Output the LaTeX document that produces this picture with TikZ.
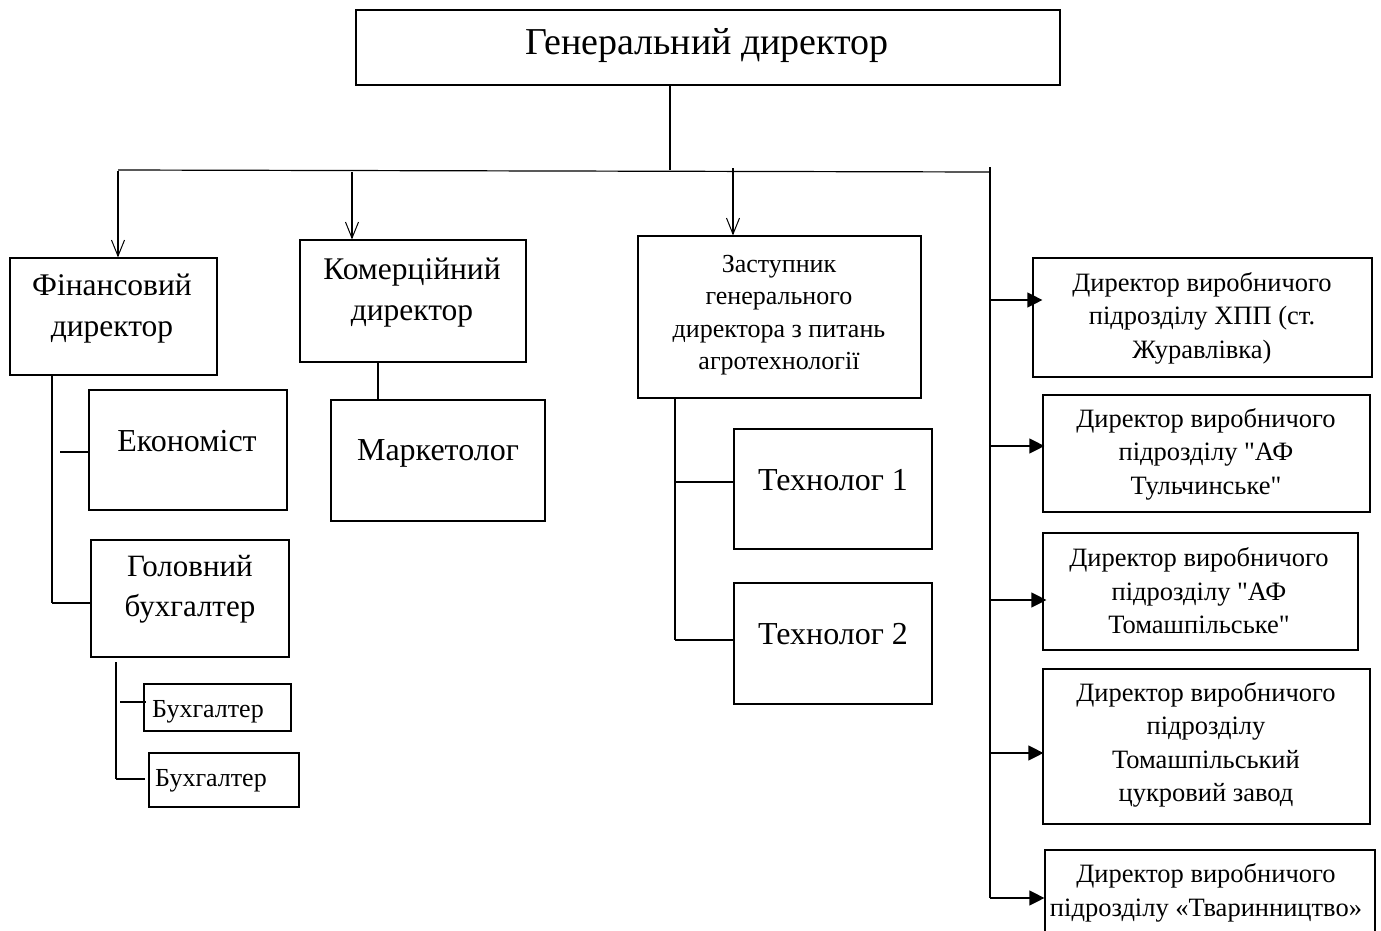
\documentclass[tikz,border=0pt]{standalone}
\usepackage{fontspec}
\setmainfont{Liberation Serif}
\newfontfamily\qfont{Liberation Serif}[Ligatures=TeXOff]
\usetikzlibrary{arrows.meta,calc}
\tikzset{
  box/.style={draw, line width=1.2bp, inner sep=0pt, anchor=center},
  txt/.style={align=center, inner sep=0pt, anchor=center},
  ln/.style={line width=1.2bp},
  oarr/.style={ln, -{Straight Barb[length=16bp,width=13bp,line width=1bp]}},
  farr/.style={ln, -{Triangle[length=15bp,width=15bp]}},
}
\newcommand{\fs}[2]{\fontsize{#1bp}{#2bp}\selectfont}
\newcommand{\dq}{{\qfont"}}
\begin{document}
\begin{tikzpicture}[x=1bp,y=-1bp]
\useasboundingbox (0,0) rectangle (1381,930);
\begin{scope}
\clip (0,0) rectangle (1381,930);
% boxes
\node[box, minimum width=704bp, minimum height=75bp] (gen) at (708,47.5) {};
\node[txt, font=\fs{38}{41}] (gent) at (707,46) {Генеральний директор};

\node[box, minimum width=207bp, minimum height=117bp] (fin) at (113.5,316.5) {};
\node[txt, font=\fs{31.5}{41}] (fint) at (112,309) {Фінансовий\\директор};

\node[box, minimum width=226bp, minimum height=122bp] (kom) at (413,301) {};
\node[txt, font=\fs{31.5}{41}] (komt) at (412,293) {Комерційний\\директор};

\node[box, minimum width=283bp, minimum height=162bp] (zast) at (779.5,317) {};
\node[txt, font=\fs{26}{32.5}] (zastt) at (779,315) {Заступник\\генерального\\директора з питань\\агротехнології};

\node[box, minimum width=198bp, minimum height=120bp] (ekon) at (188,450) {};
\node[txt, font=\fs{32}{40}] (ekont) at (187,441) {Економіст};

\node[box, minimum width=198bp, minimum height=117bp] (gbuh) at (190,598.5) {};
\node[txt, font=\fs{31}{40}] (gbuht) at (190,589) {Головний\\бухгалтер};

\node[box, minimum width=214bp, minimum height=121bp] (mark) at (438,460.5) {};
\node[txt, font=\fs{32}{40}] (markt) at (438,453) {Маркетолог};

\node[box, minimum width=198bp, minimum height=120bp] (tech1) at (833,489) {};
\node[txt, font=\fs{32}{40}] (tech1t) at (833,480) {Технолог 1};

\node[box, minimum width=198bp, minimum height=121bp] (tech2) at (833,643.5) {};
\node[txt, font=\fs{32}{40}] (tech2t) at (833,634) {Технолог 2};

\node[box, minimum width=147bp, minimum height=47bp] (buh1) at (217.5,707.5) {};
\node[txt, font=\fs{26}{30}] (buh1t) at (208,712) {Бухгалтер};

\node[box, minimum width=150bp, minimum height=54bp] (buh2) at (224,780) {};
\node[txt, font=\fs{26}{30}] (buh2t) at (211,781) {Бухгалтер};

\node[box, minimum width=339bp, minimum height=119bp] (r1) at (1202.5,317.5) {};
\node[txt, font=\fs{26.5}{33.5}] (r1t) at (1202,318) {Директор виробничого\\підрозділу ХПП (ст.\\Журавлівка)};

\node[box, minimum width=327bp, minimum height=117bp] (r2) at (1206.5,453.5) {};
\node[txt, font=\fs{26.5}{33.5}] (r2t) at (1206,454) {Директор виробничого\\підрозділу \dq АФ\\Тульчинське\dq};

\node[box, minimum width=315bp, minimum height=117bp] (r3) at (1200.5,591.5) {};
\node[txt, font=\fs{26.5}{33.5}] (r3t) at (1199,591) {Директор виробничого\\підрозділу \dq АФ\\Томашпільське\dq};

\node[box, minimum width=327bp, minimum height=155bp] (r4) at (1206.5,746.5) {};
\node[txt, font=\fs{26.5}{33.5}] (r4t) at (1206,745) {Директор виробничого\\підрозділу\\Томашпільський\\цукровий завод};

\node[box, minimum width=330bp, minimum height=120bp] (r5) at (1210,910) {};
\node[txt, font=\fs{26.5}{33.5}] (r5t) at (1206,893) {Директор виробничого\\підрозділу «Тваринництво»};
\end{scope}

% main bus
\coordinate (j0) at (670,170);
\draw[ln] (gen.south -| j0) -- (j0);
\coordinate (bl) at (118,170);
\coordinate (br) at (990,172);
\draw[ln] (bl) -- (br);
\coordinate (rt) at (990,167);
\coordinate (rb) at (990,898);
\draw[ln] (rt) -- (rb);

% down arrows
\coordinate (a1) at (118,171);
\draw[oarr] (a1) -- (a1 |- fin.north);
\coordinate (a2) at (352,172);
\draw[oarr] (a2) -- (a2 |- kom.north);
\coordinate (a3) at (733,168);
\draw[oarr] (a3) -- (a3 |- zast.north);

% right arrows
\coordinate (b1) at (990,300);
\draw[farr, shorten >=-10bp] (b1) -- (b1 -| r1.west);
\coordinate (b2) at (990,446);
\draw[farr, shorten >=-2bp] (b2) -- (b2 -| r2.west);
\coordinate (b3) at (990,600);
\draw[farr, shorten >=-4bp] (b3) -- (b3 -| r3.west);
\coordinate (b4) at (990,753);
\draw[farr, shorten >=-1bp] (b4) -- (b4 -| r4.west);
\coordinate (b5) at (990,898);
\draw[farr] (b5) -- (b5 -| r5.west);

% financial tree
\coordinate (f0) at (52,375);
\coordinate (f1) at (52,603);
\draw[ln] (f0) -- (f1);
\coordinate (f2) at (60,452);
\draw[ln] (f2) -- (f2 -| ekon.west);
\draw[ln] (f1) -- (f1 -| gbuh.west);

% commercial
\coordinate (k0) at (378,362);
\draw[ln] (k0) -- (k0 |- mark.north);

% chief accountant tree
\coordinate (g0) at (116,662);
\coordinate (g1) at (116,779);
\draw[ln] (g0) -- (g1);
\coordinate (g2) at (120,702);
\draw[ln] (g2) -- ([xshift=3bp]g2 -| buh1.west);
\draw[ln] (g1) -- ([xshift=-3bp]g1 -| buh2.west);

% deputy tree
\coordinate (z0) at (675,398);
\coordinate (z1) at (675,640);
\draw[ln] (z0) -- (z1);
\coordinate (z2) at (675,482);
\draw[ln] (z2) -- (z2 -| tech1.west);
\draw[ln] (z1) -- (z1 -| tech2.west);
\end{tikzpicture}
\end{document}
